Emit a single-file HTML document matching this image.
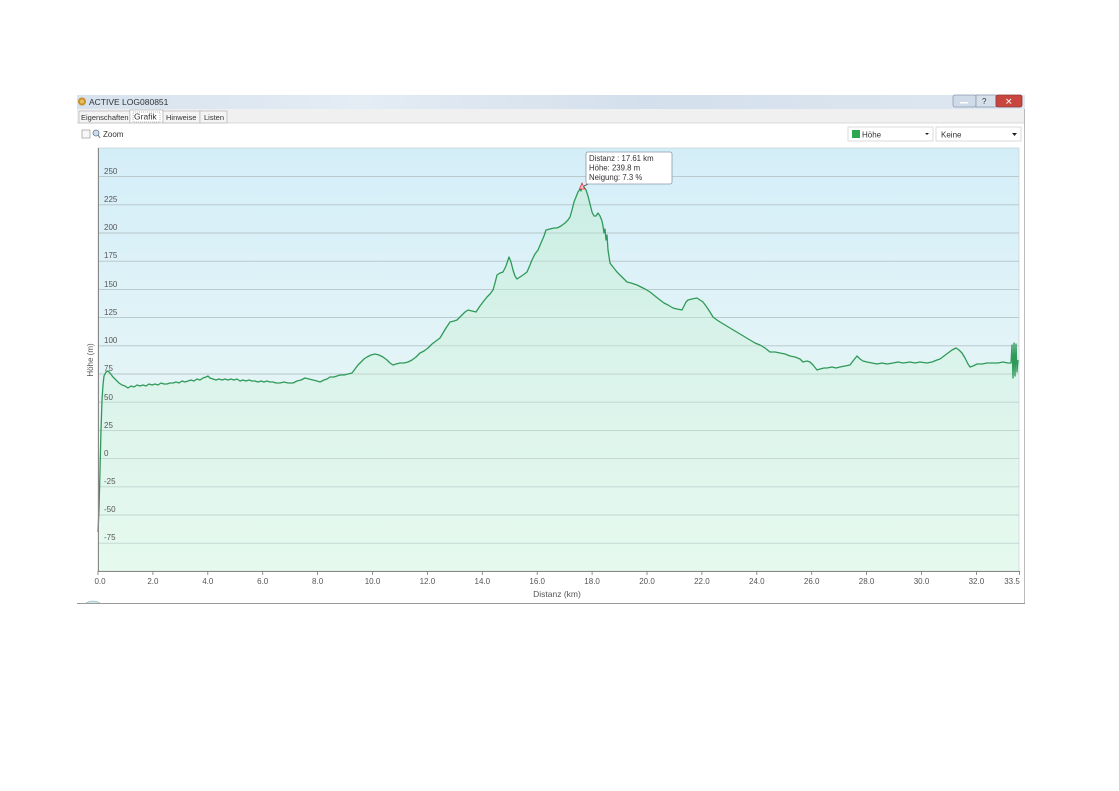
<!DOCTYPE html>
<html><head><meta charset="utf-8"><style>
html,body{margin:0;padding:0;background:#fff;width:1119px;height:791px;overflow:hidden}
svg{position:absolute;left:0;top:0}
text{font-family:"Liberation Sans",sans-serif}
</style></head><body>
<svg width="1119" height="791" viewBox="0 0 1119 791" xmlns="http://www.w3.org/2000/svg">
<defs>
<linearGradient id="tb" x1="0" y1="0" x2="1" y2="0">
<stop offset="0" stop-color="#d6e2ee"/><stop offset="0.3" stop-color="#e4ecf4"/><stop offset="0.6" stop-color="#d3dfec"/><stop offset="1" stop-color="#dfe8f1"/>
</linearGradient>
<linearGradient id="bg" x1="0" y1="0" x2="0" y2="1">
<stop offset="0" stop-color="#d4eef8"/><stop offset="0.5" stop-color="#e3f4f7"/><stop offset="1" stop-color="#eafaf2"/>
</linearGradient>
<linearGradient id="fill" x1="0" y1="0" x2="0" y2="1">
<stop offset="0" stop-color="#bdeccb" stop-opacity="0.45"/><stop offset="1" stop-color="#dcf8e6" stop-opacity="0.3"/>
</linearGradient>
</defs>
<rect x="77" y="95" width="948" height="14" fill="url(#tb)"/>
<circle cx="82" cy="101.5" r="4" fill="#c8902a"/>
<circle cx="82" cy="101.5" r="2" fill="#e8c060"/>
<text x="89" y="105" font-size="8.5" fill="#333">ACTIVE LOG080851</text>
<rect x="953" y="95" width="23" height="12" rx="2" fill="#cfdbe8" stroke="#8a9bb0" stroke-width="0.8"/>
<rect x="960" y="102" width="8" height="1.5" fill="#fff"/>
<rect x="976" y="95" width="20" height="12" fill="#d6e0ea" stroke="#8a9bb0" stroke-width="0.8"/>
<text x="982" y="104" font-size="8" fill="#334">?</text>
<rect x="996" y="95" width="26" height="12" rx="2" fill="#c9463e" stroke="#8a3a3a" stroke-width="0.8"/>
<text x="1005" y="104.5" font-size="9" fill="#fff">✕</text>
<rect x="77" y="109" width="948" height="14" fill="#f0f0f0"/>
<rect x="79" y="111" width="51" height="12" fill="#f4f4f4" stroke="#aaa" stroke-width="0.6"/>
<text x="81" y="120" font-size="7.5" fill="#333">Eigenschaften</text>
<rect x="130" y="110" width="33" height="13" fill="#fff" stroke="#aaa" stroke-width="0.6"/>
<rect x="133" y="112" width="27" height="10" fill="none" stroke="#777" stroke-width="0.5" stroke-dasharray="1,1"/>
<text x="134" y="119.5" font-size="8.5" fill="#333">Grafik</text>
<rect x="163" y="111" width="37" height="12" fill="#f4f4f4" stroke="#aaa" stroke-width="0.6"/>
<text x="166" y="120" font-size="7.5" fill="#333">Hinweise</text>
<rect x="200" y="111" width="27" height="12" fill="#f4f4f4" stroke="#aaa" stroke-width="0.6"/>
<text x="204" y="120" font-size="7.5" fill="#333">Listen</text>
<line x1="77" y1="123" x2="1025" y2="123" fill="none" stroke="#bbb" stroke-width="0.6"/>
<line x1="1024.5" y1="109" x2="1024.5" y2="604" stroke="#aaa" stroke-width="0.8"/>
<line x1="77" y1="603.5" x2="1025" y2="603.5" stroke="#999" stroke-width="1"/>
<path d="M86 603 Q93 599 100 603" fill="#cde8e0" stroke="#8ab" stroke-width="0.6"/>
<rect x="82" y="130" width="8" height="8" fill="#f7f7f7" stroke="#999" stroke-width="0.7"/>
<circle cx="96" cy="133" r="3" fill="#cde" stroke="#678" stroke-width="0.8"/>
<line x1="98" y1="135" x2="100" y2="138" stroke="#678" stroke-width="1"/>
<text x="103" y="137" font-size="8" fill="#333">Zoom</text>
<rect x="848" y="127" width="85" height="14" fill="#fff" stroke="#ccc" stroke-width="0.7"/>
<rect x="852" y="130" width="8" height="8" fill="#2fa650"/>
<text x="862" y="137.5" font-size="8" fill="#333">Höhe</text>
<path d="M925 133 L929 133 L927 135 Z" fill="#222"/>
<rect x="936" y="127" width="85" height="14" fill="#fff" stroke="#ccc" stroke-width="0.7"/>
<text x="941" y="137.5" font-size="8" fill="#333">Keine</text>
<path d="M1012 133 L1017 133 L1014.5 136 Z" fill="#222"/>
<rect x="98" y="148" width="921" height="423" fill="url(#bg)" stroke="#c8d4d8" stroke-width="0.8"/>
<g stroke="#b4c4c8" stroke-width="0.9">
<line x1="98" y1="176.6" x2="1019" y2="176.6"/>
<line x1="98" y1="204.8" x2="1019" y2="204.8"/>
<line x1="98" y1="233" x2="1019" y2="233"/>
<line x1="98" y1="261.2" x2="1019" y2="261.2"/>
<line x1="98" y1="289.4" x2="1019" y2="289.4"/>
<line x1="98" y1="317.6" x2="1019" y2="317.6"/>
<line x1="98" y1="345.8" x2="1019" y2="345.8"/>
<line x1="98" y1="374" x2="1019" y2="374"/>
<line x1="98" y1="402.2" x2="1019" y2="402.2"/>
<line x1="98" y1="430.4" x2="1019" y2="430.4"/>
<line x1="98" y1="458.6" x2="1019" y2="458.6"/>
<line x1="98" y1="486.8" x2="1019" y2="486.8"/>
<line x1="98" y1="515" x2="1019" y2="515"/>
<line x1="98" y1="543.2" x2="1019" y2="543.2"/>
</g>
<polygon fill="url(#fill)" points="98,571 98,532 99,510 100,470 101,430 102,400 103,385 104,376 106,372 108,371 110,373 113,377 116,380 119,383 122,385 125,386 128,388 131,386 134,387 137,385 140,386 143,385 146,386 149,384 152,385 155,384 158,385 161,383 164,384 167,384 170,383 173,383 176,382 179,383 182,381 185,382 188,381 191,380 194,381 197,379 200,380 203,378 206,377 208,376 210,378 213,379 216,380 219,379 222,380 225,379 228,380 231,379 234,380 237,379 240,381 243,380 246,381 249,380 252,381 255,381 258,382 261,381 264,382 267,381 270,382 273,382 276,383 280,383 284,382 288,383 293,383 297,381 301,380 305,378 309,379 313,380 317,381 320,382 324,380 327,379 330,377 334,377 337,376 340,375 344,375 348,374 352,373 355,369 358,365 361,362 364,359 367,357 371,355 375,354 379,355 383,357 387,360 390,363 393,365 396,364 400,363 404,363 408,362 412,360 416,357 420,353 424,351 428,348 432,344 436,341 440,338 443,333 446,328 450,322 454,321 457,320 461,316 465,312 468,310 472,311 476,312 480,306 483,302 487,297 490,294 493,290 495,283 497,275 500,273 503,272 506,266 509,257 511,262 513,270 515,276 517,279 520,277 523,275 527,272 530,265 532,260 535,254 538,250 541,243 544,236 546,230 550,229 554,228 557,228 561,226 565,223 568,220 570,217 572,210 574,202 576,197 578,192 580,189 581,191 582,186 584,187 586,190 588,196 590,204 592,212 594,216 596,216 598,213 600,216 602,221 603,226 604,233 605,229 606,240 607,235 608,250 610,263 613,267 617,272 621,276 624,279 627,282 631,283 634,284 637,285 641,287 645,289 650,292 655,296 660,300 664,303 668,305 673,308 677,309 682,310 684,306 686,302 688,300 692,299 697,298 700,300 703,302 706,306 710,312 713,317 717,320 720,322 725,325 730,328 735,331 740,334 745,337 750,340 755,343 760,345 765,348 770,352 775,352 780,353 785,354 790,356 795,357 800,359 803,362 807,361 810,362 813,365 817,370 820,369 824,368 827,368 832,367 836,368 840,367 845,366 850,365 853,361 857,356 860,359 863,361 867,362 872,363 877,364 882,363 887,364 893,363 898,362 903,363 910,362 915,363 920,362 927,363 932,362 937,360 940,359 944,356 948,353 952,350 956,348 959,350 962,353 965,358 968,364 970,367 973,366 977,364 982,364 987,363 993,363 998,363 1003,362 1008,363 1011,363 1018,362 1018,571"/>
<polyline fill="none" stroke="#2f9a58" stroke-width="1.3" stroke-linejoin="round" points="98,532 99,510 100,470 101,430 102,400 103,385 104,376 106,372 108,371 110,373 113,377 116,380 119,383 122,385 125,386 128,388 131,386 134,387 137,385 140,386 143,385 146,386 149,384 152,385 155,384 158,385 161,383 164,384 167,384 170,383 173,383 176,382 179,383 182,381 185,382 188,381 191,380 194,381 197,379 200,380 203,378 206,377 208,376 210,378 213,379 216,380 219,379 222,380 225,379 228,380 231,379 234,380 237,379 240,381 243,380 246,381 249,380 252,381 255,381 258,382 261,381 264,382 267,381 270,382 273,382 276,383 280,383 284,382 288,383 293,383 297,381 301,380 305,378 309,379 313,380 317,381 320,382 324,380 327,379 330,377 334,377 337,376 340,375 344,375 348,374 352,373 355,369 358,365 361,362 364,359 367,357 371,355 375,354 379,355 383,357 387,360 390,363 393,365 396,364 400,363 404,363 408,362 412,360 416,357 420,353 424,351 428,348 432,344 436,341 440,338 443,333 446,328 450,322 454,321 457,320 461,316 465,312 468,310 472,311 476,312 480,306 483,302 487,297 490,294 493,290 495,283 497,275 500,273 503,272 506,266 509,257 511,262 513,270 515,276 517,279 520,277 523,275 527,272 530,265 532,260 535,254 538,250 541,243 544,236 546,230 550,229 554,228 557,228 561,226 565,223 568,220 570,217 572,210 574,202 576,197 578,192 580,189 581,191 582,186 584,187 586,190 588,196 590,204 592,212 594,216 596,216 598,213 600,216 602,221 603,226 604,233 605,229 606,240 607,235 608,250 610,263 613,267 617,272 621,276 624,279 627,282 631,283 634,284 637,285 641,287 645,289 650,292 655,296 660,300 664,303 668,305 673,308 677,309 682,310 684,306 686,302 688,300 692,299 697,298 700,300 703,302 706,306 710,312 713,317 717,320 720,322 725,325 730,328 735,331 740,334 745,337 750,340 755,343 760,345 765,348 770,352 775,352 780,353 785,354 790,356 795,357 800,359 803,362 807,361 810,362 813,365 817,370 820,369 824,368 827,368 832,367 836,368 840,367 845,366 850,365 853,361 857,356 860,359 863,361 867,362 872,363 877,364 882,363 887,364 893,363 898,362 903,363 910,362 915,363 920,362 927,363 932,362 937,360 940,359 944,356 948,353 952,350 956,348 959,350 962,353 965,358 968,364 970,367 973,366 977,364 982,364 987,363 993,363 998,363 1003,362 1008,363 1011,363 1012,345 1013,378 1014,343 1015,376 1016,344 1017,372 1018,360"/>
<line x1="98.5" y1="148" x2="98.5" y2="572" stroke="#888" stroke-width="1"/>
<line x1="98" y1="571.5" x2="1020" y2="571.5" stroke="#888" stroke-width="1"/>
<g stroke="#777" stroke-width="0.8">
<line x1="98" y1="571" x2="98" y2="575"/><line x1="152.9" y1="571" x2="152.9" y2="575"/><line x1="207.8" y1="571" x2="207.8" y2="575"/><line x1="262.7" y1="571" x2="262.7" y2="575"/><line x1="317.6" y1="571" x2="317.6" y2="575"/><line x1="372.5" y1="571" x2="372.5" y2="575"/><line x1="427.4" y1="571" x2="427.4" y2="575"/><line x1="482.3" y1="571" x2="482.3" y2="575"/><line x1="537.2" y1="571" x2="537.2" y2="575"/><line x1="592.1" y1="571" x2="592.1" y2="575"/><line x1="647" y1="571" x2="647" y2="575"/><line x1="701.9" y1="571" x2="701.9" y2="575"/><line x1="756.8" y1="571" x2="756.8" y2="575"/><line x1="811.7" y1="571" x2="811.7" y2="575"/><line x1="866.6" y1="571" x2="866.6" y2="575"/><line x1="921.5" y1="571" x2="921.5" y2="575"/><line x1="976.4" y1="571" x2="976.4" y2="575"/><line x1="1019.5" y1="571" x2="1019.5" y2="575"/>
</g>
<g font-size="8" fill="#555" text-anchor="middle">
<text x="100" y="584">0.0</text><text x="152.9" y="584">2.0</text><text x="207.8" y="584">4.0</text><text x="262.7" y="584">6.0</text><text x="317.6" y="584">8.0</text><text x="372.5" y="584">10.0</text><text x="427.4" y="584">12.0</text><text x="482.3" y="584">14.0</text><text x="537.2" y="584">16.0</text><text x="592.1" y="584">18.0</text><text x="647" y="584">20.0</text><text x="701.9" y="584">22.0</text><text x="756.8" y="584">24.0</text><text x="811.7" y="584">26.0</text><text x="866.6" y="584">28.0</text><text x="921.5" y="584">30.0</text><text x="976.4" y="584">32.0</text><text x="1012" y="584">33.5</text>
<text x="557" y="597" font-size="8.5">Distanz  (km)</text>
</g>
<g font-size="8" fill="#555">
<text x="104" y="174">250</text><text x="104" y="202">225</text><text x="104" y="230">200</text><text x="104" y="258">175</text><text x="104" y="287">150</text><text x="104" y="315">125</text><text x="104" y="343">100</text><text x="104" y="371">75</text><text x="104" y="400">50</text><text x="104" y="428">25</text><text x="104" y="456">0</text><text x="104" y="484">-25</text><text x="104" y="512">-50</text><text x="104" y="540">-75</text>
</g>
<text x="93" y="360" font-size="8" fill="#555" text-anchor="middle" transform="rotate(-90 93 360)">Höhe (m)</text>
<line x1="584" y1="186" x2="592" y2="182" stroke="#444" stroke-width="0.8"/>
<path d="M582 183 L579.5 189 L584.5 189 Z" fill="#fbd" stroke="#d33" stroke-width="0.8"/>
<rect x="586" y="152" width="86" height="32" rx="2" fill="#fff" stroke="#8a9aa6" stroke-width="0.8"/>
<g font-size="7.8" fill="#333">
<text x="589" y="161">Distanz : 17.61 km</text>
<text x="589" y="170.5">Höhe: 239.8 m</text>
<text x="589" y="180">Neigung:  7.3 %</text>
</g>
</svg>
</body></html>
